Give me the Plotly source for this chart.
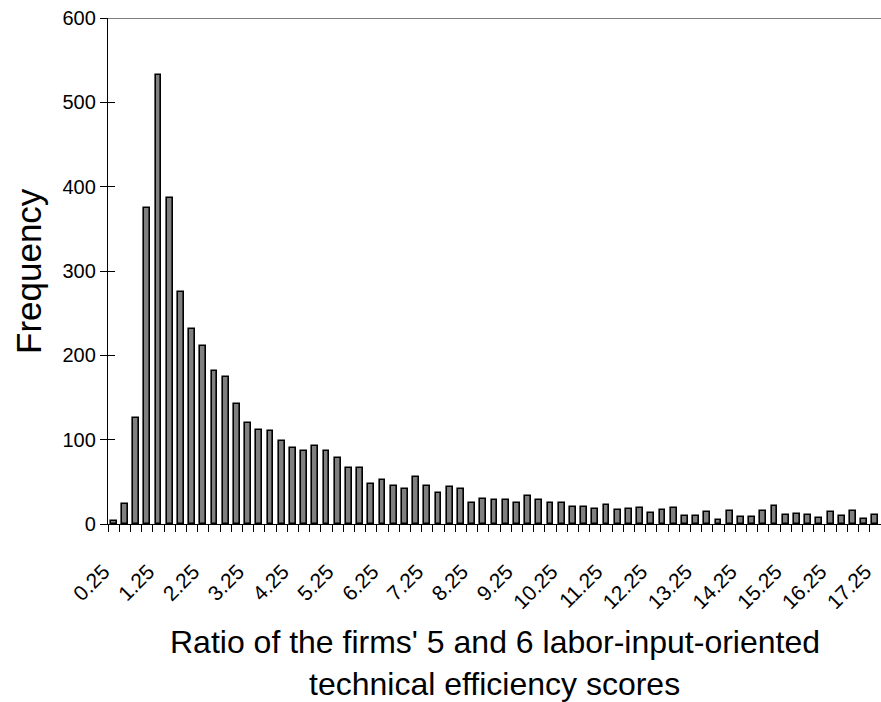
import plotly.graph_objects as go

bin_width = 0.25
bin_centers = [round(0.25 * (i + 1), 2) for i in range(69)]
frequency = [3, 24, 126, 375, 533, 386, 275, 231, 211, 182,
             174, 142, 120, 111, 110, 99, 90, 86, 92, 87,
             78, 66, 66, 48, 52, 45, 41, 56, 45, 37,
             44, 41, 25, 30, 29, 28, 25, 33, 28, 25,
             25, 20, 20, 18, 22, 17, 18, 19, 13, 17,
             19, 9, 9, 14, 5, 15, 8, 8, 15, 21,
             11, 12, 11, 7, 14, 9, 15, 6, 11]
x_tick_vals = [0.25 + k for k in range(18)]
x_tick_text = [f"{v:.2f}" for v in x_tick_vals]
y_max = 600
y_ticks = list(range(0, 601, 100))
x_title_lines = ["Ratio of the firms' 5 and 6 labor-input-oriented",
                 "technical efficiency scores"]
y_title = "Frequency"

FONT = "Arial, Liberation Sans, sans-serif"

fig = go.Figure()
fig.add_trace(go.Bar(
    x=bin_centers, y=frequency, width=bin_width * 0.52,
    marker=dict(color="#808080", line=dict(color="black", width=1.6)),
    showlegend=False,
))
fig.add_trace(go.Scatter(x=[bin_centers[0]], y=[0], yaxis="y2", mode="markers",
                         marker=dict(opacity=0), showlegend=False, hoverinfo="skip"))

fig.update_layout(
    width=881, height=702,
    margin=dict(l=108, r=0, t=18, b=178),
    paper_bgcolor="white", plot_bgcolor="white",
    font=dict(family=FONT, color="black"),
    bargap=0,
    xaxis=dict(
        range=[bin_centers[0] - bin_width / 2, bin_centers[-1] + bin_width / 2],
        tickmode="array", tickvals=x_tick_vals, ticktext=x_tick_text,
        tickangle=-45, ticks="", tickfont=dict(size=21, family=FONT),
        ticklabeloverflow="allow", ticklabelstandoff=26, ticklabelshift=-10,
        showline=True, linecolor="black", linewidth=1.3,
        showgrid=False, zeroline=False, automargin=False,
        minor=dict(tick0=bin_width / 2, dtick=bin_width, ticks="outside",
                   ticklen=7, tickcolor="black", tickwidth=1, showgrid=False),
    ),
    yaxis=dict(
        range=[0, y_max], tickvals=y_ticks, ticks="outside", ticklen=7,
        tickcolor="black", tickwidth=1, tickfont=dict(size=20, family=FONT),
        showline=True, linecolor="black", linewidth=1.3,
        showgrid=False, zeroline=False, automargin=False,
    ),
    yaxis2=dict(
        overlaying="y", side="left", range=[0, y_max], tickvals=y_ticks,
        ticks="inside", ticklen=7, tickcolor="black", tickwidth=1,
        showticklabels=False, showgrid=False, zeroline=False, showline=False,
        automargin=False,
    ),
    shapes=[dict(type="line", xref="paper", yref="y", x0=0, x1=1, y0=y_max, y1=y_max,
                 line=dict(color="#808080", width=2))],
    annotations=[
        dict(text=x_title_lines[0], xref="paper", yref="paper", x=0.5, y=0,
             yanchor="middle", yshift=-118, showarrow=False, font=dict(size=32, family=FONT)),
        dict(text=x_title_lines[1], xref="paper", yref="paper", x=0.5, y=0,
             yanchor="middle", yshift=-160, showarrow=False, font=dict(size=32, family=FONT)),
        dict(text=y_title, xref="paper", yref="paper", x=0, y=0.5, xanchor="center",
             xshift=-80, textangle=-90, showarrow=False, font=dict(size=35, family=FONT)),
    ],
)

fig.write_html(
    "out.html",
    config={"displayModeBar": False},
    post_script="document.body.style.margin='0px';document.body.style.overflow='hidden';",
)
